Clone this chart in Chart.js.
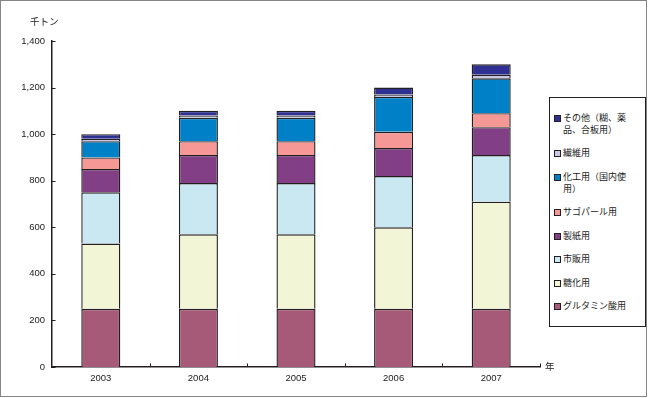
<!DOCTYPE html>
<html>
<head>
<meta charset="utf-8">
<script src="https://cdn.jsdelivr.net/npm/chart.js@4/dist/chart.umd.min.js"></script>
<style>
  html, body { margin: 0; padding: 0; background: #fff; }
  #wrap { position: relative; width: 648px; height: 398px; overflow: hidden; background: #fff; }
  #frame { position: absolute; left: 0; top: 0; width: 647px; height: 397px; border: 1px solid #858585; box-sizing: border-box; pointer-events: none; }
  canvas { position: absolute; left: 0; top: 0; }
  .lbl { position: absolute; font-family: "Noto Sans CJK JP", sans-serif; font-size: 9.5px; color: #222; line-height: 1; white-space: nowrap; }
  #legend { position: absolute; left: 549px; top: 97px; width: 97px; height: 230px; border: 1px solid #231f20; box-sizing: border-box; background: #fff;
            display: flex; flex-direction: column; justify-content: space-evenly; padding: 2px 0 2px 4px; }
  .item { display: flex; align-items: flex-start; font-family: "Noto Sans CJK JP", sans-serif; font-size: 9px; line-height: 12px; color: #1a1a1a; }
  .sw { width: 5px; height: 5px; border: 1px solid #231f20; margin-top: 3px; margin-right: 2px; flex: none; }
  .tx { width: 66px; word-break: break-all; }
</style>
</head>
<body>
<div id="wrap">
  <canvas id="c" width="648" height="398"></canvas>
  <div class="lbl" style="left:30px; top:17px;">千トン</div>
  <div class="lbl" style="left:545px; top:362px;">年</div>
  <div id="legend"></div>
  <div id="frame"></div>
</div>
<script>
// ---- data ----
const years = ['2003', '2004', '2005', '2006', '2007'];
const seriesNames = ['グルタミン酸用', '糖化用', '市販用', '製紙用', 'サゴパール用', '化工用（国内使用）', '繊維用', 'その他（糊、薬品、合板用）'];
const glutamate   = [250, 250, 250, 250, 250];
const saccharify  = [280, 320, 320, 350, 460];
const retail      = [220, 220, 220, 220, 200];
const paper       = [100, 120, 120, 120, 120];
const sagoPearl   = [50, 60, 60, 70, 60];
const modified    = [70, 100, 100, 150, 150];
const textile     = [10, 10, 10, 10, 15];
const others      = [20, 20, 20, 30, 45];
const yTicks = [0, 200, 400, 600, 800, 1000, 1200, 1400];

const seriesValues = [glutamate, saccharify, retail, paper, sagoPearl, modified, textile, others];
const colors = ['#A65A78', '#F2F5D6', '#C9E8F2', '#823F85', '#F59896', '#0080C6', '#C8C8E4', '#2E3192'];

const insideTicks = {
  id: 'insideTicks',
  afterDraw(chart) {
    const ctx = chart.ctx;
    const x = chart.scales.x, y = chart.scales.y;
    const a = chart.chartArea;
    ctx.save();
    ctx.strokeStyle = '#231f20';
    ctx.lineWidth = 1;
    ctx.beginPath();
    yTicks.forEach(v => {
      const py = Math.round(y.getPixelForValue(v)) + 0.5;
      ctx.moveTo(a.left, py); ctx.lineTo(a.left + 3.5, py);
    });
    for (let i = 1; i <= years.length; i++) {
      const px = Math.round(x.getPixelForTick(i - 1) + (x.getPixelForTick(1) - x.getPixelForTick(0)) / 2) + 0.5;
      ctx.moveTo(px, a.bottom); ctx.lineTo(px, a.bottom - 3.5);
    }
    ctx.stroke();
    ctx.restore();
  }
};

const chart = new Chart(document.getElementById('c'), {
  type: 'bar',
  data: {
    labels: years,
    datasets: seriesValues.map((vals, i) => ({
      label: seriesNames[i],
      data: vals,
      backgroundColor: colors[i],
      borderColor: '#231f20',
      borderWidth: 1.4,
      barPercentage: 0.4,
      categoryPercentage: 1.0
    }))
  },
  options: {
    responsive: false,
    animation: false,
    devicePixelRatio: 1,
    layout: { padding: { left: 0, right: 108, top: 41, bottom: 0 } },
    plugins: { legend: { display: false }, tooltip: { enabled: false } },
    scales: {
      x: {
        stacked: true,
        grid: { display: false, drawTicks: false },
        border: { display: true, color: '#231f20', width: 1.5 },
        ticks: { color: '#222', font: { family: 'Liberation Sans, Arial, sans-serif', size: 9.5 }, padding: 6, maxRotation: 0 },
        afterFit(s) { s.height = 31; }
      },
      y: {
        stacked: true,
        min: 0, max: 1400,
        afterBuildTicks(s) { s.ticks = yTicks.map(v => ({ value: v })); },
        grid: { display: false, drawTicks: false },
        border: { display: true, color: '#231f20', width: 1.5 },
        ticks: { color: '#222', font: { family: 'Liberation Sans, Arial, sans-serif', size: 9.5 }, padding: 7,
                 callback: v => v.toLocaleString('en-US') },
        afterFit(s) { s.width = 52; }
      }
    }
  },
  plugins: [insideTicks]
});

// HTML legend built from the chart's datasets (reversed order, top = last stacked)
const legend = document.getElementById('legend');
chart.data.datasets.slice().reverse().forEach(ds => {
  const item = document.createElement('div');
  item.className = 'item';
  const sw = document.createElement('div');
  sw.className = 'sw';
  sw.style.background = ds.backgroundColor;
  const tx = document.createElement('div');
  tx.className = 'tx';
  tx.textContent = ds.label;
  item.appendChild(sw); item.appendChild(tx);
  legend.appendChild(item);
});
</script>
</body>
</html>
